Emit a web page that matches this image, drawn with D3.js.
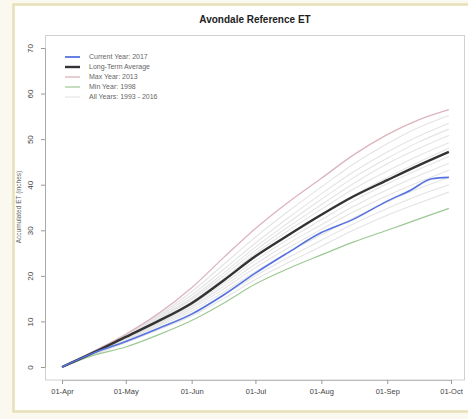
<!DOCTYPE html>
<html><head><meta charset="utf-8">
<script src="https://cdn.jsdelivr.net/npm/d3@7"></script>
<style>
html,body{margin:0;padding:0;background:#faf8ef;}
svg{display:block;}
</style></head>
<body>
<svg id="chart" width="468" height="419"></svg>
<script>
const title = "Avondale Reference ET";
const yLabel = "Accumulated ET (inches)";
const dates = ["2017-04-01","2017-04-16","2017-05-01","2017-05-16","2017-06-01","2017-06-16","2017-07-01","2017-07-16","2017-08-01","2017-08-16","2017-09-01","2017-09-16","2017-09-30"];
const currentDates = ["2017-04-01","2017-04-16","2017-05-01","2017-05-16","2017-06-01","2017-06-16","2017-07-01","2017-07-16","2017-08-01","2017-08-16","2017-09-01","2017-09-12","2017-09-22","2017-09-30"];
const current2017 = [0,3.1,5.6,8.4,11.6,15.8,20.6,25.0,29.5,32.4,36.4,38.8,41.3,41.6];
const longTermAvg = [0,3.2,6.6,10.0,14.0,19.0,24.3,28.8,33.4,37.4,41.0,44.3,47.2];
const max2013 = [0,3.5,7.2,11.6,17.4,24.0,30.4,36.0,41.4,46.5,51.0,54.3,56.5];
const min1998 = [0,2.6,4.4,7.0,10.2,14.0,18.2,21.5,24.6,27.4,30.0,32.5,34.8];
const allYears = [
 [0,3.4,7.0,11.2,16.5,22.5,28.5,34.0,39.5,44.5,49.0,52.6,55.2],
 [0,3.3,6.9,10.9,15.8,21.4,27.2,32.6,38.0,42.8,47.2,50.7,53.5],
 [0,3.2,6.8,10.6,15.2,20.6,26.3,31.5,36.8,41.5,45.8,49.4,52.2],
 [0,3.3,6.7,10.4,14.8,20.0,25.6,30.6,35.6,40.2,44.6,48.0,50.8],
 [0,3.1,6.5,10.1,14.3,19.4,24.9,29.8,34.6,39.0,43.0,46.4,49.2],
 [0,3.2,6.6,10.0,14.0,18.9,24.2,28.8,33.4,37.6,41.6,45.0,48.0],
 [0,3.0,6.3,9.7,13.6,18.3,23.4,27.9,32.3,36.4,40.2,43.4,46.2],
 [0,3.1,6.2,9.5,13.2,17.7,22.6,27.0,31.2,35.2,38.9,42.0,44.7],
 [0,2.9,6.0,9.2,12.8,17.1,21.8,26.0,30.2,34.0,37.6,40.6,43.2],
 [0,2.8,5.8,8.9,12.3,16.4,20.9,25.0,29.0,32.7,36.2,39.2,41.6],
 [0,2.7,5.6,8.5,11.8,15.7,20.0,23.9,27.8,31.4,34.8,37.7,40.0],
 [0,2.7,5.3,8.1,11.2,15.0,19.2,22.8,26.5,30.0,33.3,36.0,38.4]
];
const xTickDates = ["2017-04-01","2017-05-01","2017-06-01","2017-07-01","2017-08-01","2017-09-01","2017-10-01"];
const yTicks = [0,10,20,30,40,50,60,70];
const legendLabels = ["Current Year: 2017","Long-Term Average","Max Year: 2013","Min Year: 1998","All Years: 1993 - 2016"];

const parse = d3.timeParse("%Y-%m-%d");
const svg = d3.select("#chart");
const FONT = "Liberation Sans, Arial, sans-serif";

// outer frame
svg.append("rect").attr("x",13.5).attr("y",4.5).attr("width",462).attr("height",407)
  .attr("fill","#ffffff").attr("stroke","#e8e0b8").attr("stroke-width",2.5);

const x = d3.scaleTime().domain([parse("2017-04-01"), parse("2017-10-01")]).range([62, 451]);
const y = d3.scaleLinear().domain([0,70]).range([367, 48]);

// plot box
svg.append("rect").attr("x",45.5).attr("y",35.5).attr("width",419).attr("height",344.5)
  .attr("fill","none").attr("stroke","#d0d0d0").attr("stroke-width",1);

const line = (ds) => d3.line().x((d,i)=>x(parse(ds[i]))).y(d=>y(d)).curve(d3.curveMonotoneX);

const g = svg.append("g");
allYears.forEach(s => g.append("path").attr("d", line(dates)(s)).attr("fill","none")
  .attr("stroke","#e4e4e4").attr("stroke-width",1.1));
g.append("path").attr("d", line(dates)(max2013)).attr("fill","none").attr("stroke","#dcb4bc").attr("stroke-width",1.3);
g.append("path").attr("d", line(dates)(min1998)).attr("fill","none").attr("stroke","#9cc894").attr("stroke-width",1.2);
g.append("path").attr("d", line(dates)(longTermAvg)).attr("fill","none").attr("stroke","#333333").attr("stroke-width",2.4);
g.append("path").attr("d", line(currentDates)(current2017)).attr("fill","none").attr("stroke","#5572e0").attr("stroke-width",1.6);

// axes
const xAxis = d3.axisBottom(x).tickValues(xTickDates.map(parse)).tickFormat(d3.timeFormat("%d-%b")).tickSize(4).tickSizeOuter(0);
const xg = svg.append("g").attr("transform","translate(0,380)").call(xAxis);
xg.select(".domain").attr("stroke","#bbbbbb");
xg.selectAll(".tick line").attr("stroke","#999");
xg.selectAll("text").attr("fill","#444").attr("font-size","7.5px").attr("font-family",FONT).attr("dy","0.9em");

const yAxis = d3.axisLeft(y).tickValues(yTicks).tickSize(4).tickSizeOuter(0);
const yg = svg.append("g").attr("transform","translate(45,0)").call(yAxis);
yg.select(".domain").attr("stroke","#aaaaaa");
yg.selectAll(".tick line").attr("stroke","#999");
yg.selectAll("text").attr("fill","#444").attr("font-size","8px").attr("font-family",FONT)
  .attr("transform","rotate(-90)").attr("x",0).attr("y",-12).attr("dy","0").attr("text-anchor","middle");

// axis label
svg.append("text").attr("transform","translate(21,207) rotate(-90)").attr("text-anchor","middle")
  .attr("font-size","6.5px").attr("fill","#666").attr("font-family",FONT).text(yLabel);

// title
svg.append("text").attr("x",255).attr("y",23).attr("text-anchor","middle").attr("font-weight","bold")
  .attr("font-size","10px").attr("fill","#222").attr("font-family",FONT).text(title);

// legend
const legColors = ["#5572e0","#333333","#dcb4bc","#9cc894","#e2e2e2"];
const legWidths = [1.8,2.4,1.3,1.2,1.1];
const lg = svg.append("g");
legendLabels.forEach((t,i) => {
  const yy = 57 + i*10;
  lg.append("line").attr("x1",65).attr("x2",80).attr("y1",yy).attr("y2",yy).attr("stroke",legColors[i]).attr("stroke-width",legWidths[i]);
  lg.append("text").attr("x",89).attr("y",yy).attr("dy","0.33em").attr("font-size","7px").attr("fill","#666")
    .attr("font-family",FONT).text(t);
});
</script>
</body></html>
